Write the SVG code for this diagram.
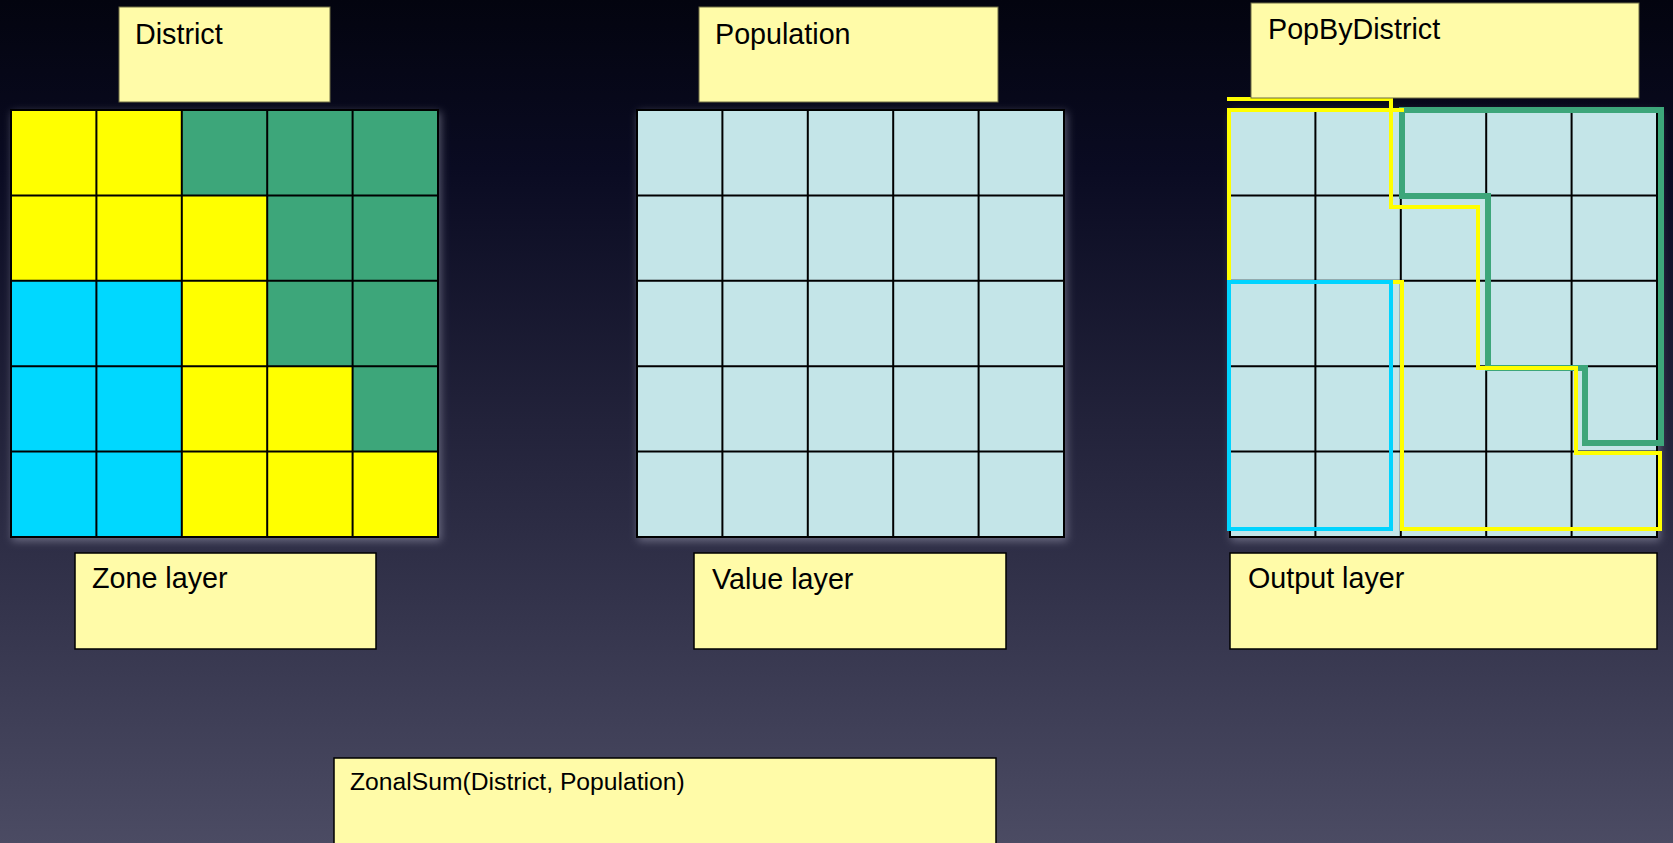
<svg xmlns="http://www.w3.org/2000/svg" width="1673" height="843" viewBox="0 0 1673 843">
  <defs>
    <linearGradient id="bg" x1="0" y1="0" x2="0" y2="1">
      <stop offset="0" stop-color="#03040f"/>
      <stop offset="0.2" stop-color="#0a0b22"/>
      <stop offset="0.55" stop-color="#26263e"/>
      <stop offset="1" stop-color="#4b4b63"/>
    </linearGradient>
    <filter id="glow" x="-10%" y="-10%" width="120%" height="120%">
      <feDropShadow dx="2" dy="3" stdDeviation="4" flood-color="#c8c8dc" flood-opacity="0.4"/>
    </filter>
    <!-- 5x5 grid lines, 85.4px cells -->
    <path id="gridlines" d="M85.4,0V427M170.8,0V427M256.2,0V427M341.6,0V427M0,85.4H427M0,170.8H427M0,256.2H427M0,341.6H427"/>
  </defs>
  <style>
    .note { fill: #fffba8; }
    .top { stroke: #6e6c45; stroke-width: 1; }
    .bot { stroke: #000; stroke-width: 1.5; }
    .lbl { font-family: "Liberation Sans", Arial, sans-serif; font-size: 28.7px; fill: #000; }
    .fn { font-family: "Liberation Sans", Arial, sans-serif; font-size: 24.7px; fill: #000; }
    .gl { fill: none; stroke: #000; stroke-width: 2; }
    .y { fill: #ffff00; }
    .g { fill: #3da67a; }
    .c { fill: #00d8ff; }
    .v { fill: #c4e5e8; }
    .zone { fill: none; stroke-linejoin: miter; stroke-linecap: square; }
  </style>

  <rect width="1673" height="843" fill="url(#bg)"/>

  <!-- Zone layer grid -->
  <g id="district-grid" transform="translate(11,110)" filter="url(#glow)">
    <rect class="y" x="0" y="0" width="170.8" height="85.4"/>
    <rect class="g" x="170.8" y="0" width="256.2" height="85.4"/>
    <rect class="y" x="0" y="85.4" width="256.2" height="85.4"/>
    <rect class="g" x="256.2" y="85.4" width="170.8" height="170.8"/>
    <rect class="c" x="0" y="170.8" width="170.8" height="256.2"/>
    <rect class="y" x="170.8" y="170.8" width="85.4" height="256.2"/>
    <rect class="y" x="256.2" y="256.2" width="85.4" height="170.8"/>
    <rect class="g" x="341.6" y="256.2" width="85.4" height="85.4"/>
    <rect class="y" x="341.6" y="341.6" width="85.4" height="85.4"/>
    <use href="#gridlines" class="gl"/>
    <rect class="gl" width="427" height="427"/>
  </g>

  <!-- Value layer grid -->
  <g id="population-grid" transform="translate(637,110)" filter="url(#glow)">
    <rect class="v" width="427" height="427"/>
    <use href="#gridlines" class="gl"/>
    <rect class="gl" width="427" height="427"/>
  </g>

  <!-- Output layer grid -->
  <g id="output-grid" transform="translate(1230,110)" filter="url(#glow)">
    <rect class="v" width="427" height="427"/>
    <use href="#gridlines" class="gl"/>
    <rect class="gl" width="427" height="427"/>
  </g>

  <!-- zone outlines drawn over the output grid -->
  <g id="zone-outlines">
    <path class="zone" stroke="#3da67a" stroke-width="6" d="M1402,110 H1661 V443 H1585 V368 H1488 V196 H1402 Z"/>
    <path class="zone" stroke="#ffff00" stroke-width="4" d="M1393,282 H1402 V529 H1660 V453 H1576 V368 H1478 V207 H1391 V99 H1229"/>
    <path class="zone" stroke="#ffff00" stroke-width="4" d="M1229,282 V110 H1402"/>
    <path class="zone" stroke="#00d4ff" stroke-width="4" d="M1229,282 H1391 V529 H1229 Z"/>
  </g>

  <!-- name notes -->
  <g id="note-district">
    <rect class="note top" x="119" y="7" width="211" height="95"/>
    <text class="lbl" x="135" y="44">District</text>
  </g>
  <g id="note-population">
    <rect class="note top" x="699" y="7" width="299" height="95"/>
    <text class="lbl" x="715" y="44">Population</text>
  </g>
  <g id="note-popbydistrict">
    <rect class="note top" x="1251" y="3" width="388" height="95"/>
    <text class="lbl" x="1268" y="39">PopByDistrict</text>
  </g>

  <!-- layer notes -->
  <g id="note-zone">
    <rect class="note bot" x="75" y="553" width="301" height="96"/>
    <text class="lbl" x="92" y="588">Zone layer</text>
  </g>
  <g id="note-value">
    <rect class="note bot" x="694" y="553" width="312" height="96"/>
    <text class="lbl" x="712" y="589">Value layer</text>
  </g>
  <g id="note-output">
    <rect class="note bot" x="1230" y="553" width="427" height="96"/>
    <text class="lbl" x="1248" y="588">Output layer</text>
  </g>

  <!-- operation note -->
  <g id="note-zonalsum">
    <rect class="note bot" x="334" y="758" width="662" height="100"/>
    <text class="fn" x="350" y="790">ZonalSum(District, Population)</text>
  </g>
</svg>
